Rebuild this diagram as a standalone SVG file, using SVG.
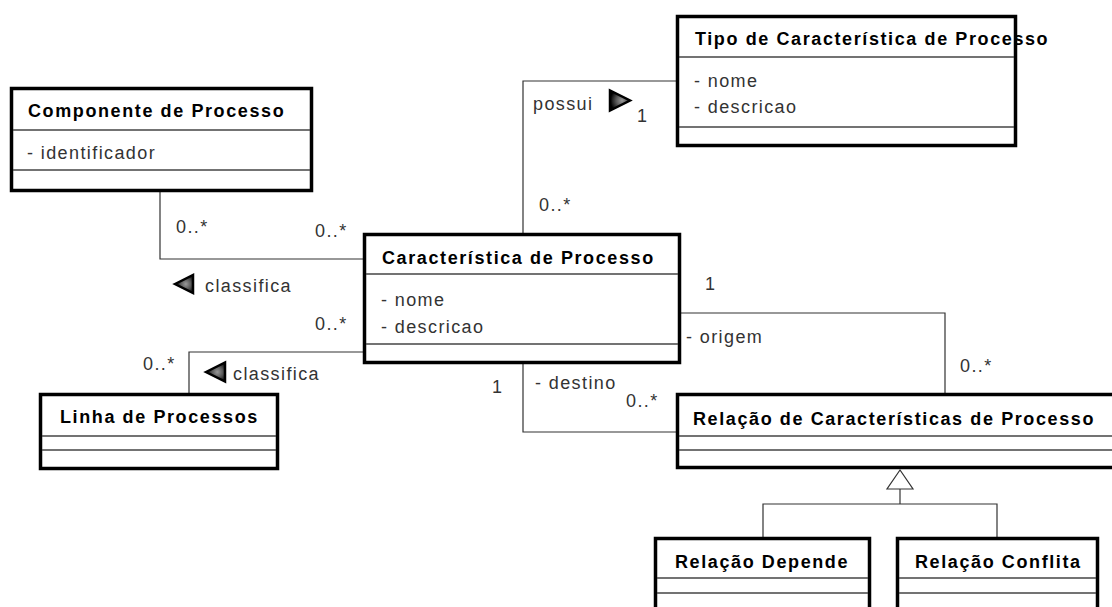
<svg xmlns="http://www.w3.org/2000/svg" width="1112" height="607" viewBox="0 0 1112 607">
<style>
.box{fill:#fff;stroke:#000;stroke-width:3.5}
.sep{stroke:#444;stroke-width:1.3}
.hd{font-family:"Liberation Sans",Arial,sans-serif;font-weight:bold;font-size:18px;letter-spacing:1.6px;fill:#000}
.at{font-family:"Liberation Sans",Arial,sans-serif;font-size:18px;letter-spacing:1.4px;fill:#333}
.ln{fill:none;stroke:#333;stroke-width:1.2}
.dir{fill:url(#g);stroke:#000;stroke-width:2.5;stroke-linejoin:miter}
</style>
<defs>
<radialGradient id="g" cx="0.6" cy="0.5" r="0.6">
<stop offset="0" stop-color="#999"/>
<stop offset="0.5" stop-color="#555"/>
<stop offset="1" stop-color="#000"/>
</radialGradient>
</defs>
<rect width="1112" height="607" fill="#fff"/>
<g id="connectors">
<polyline class="ln" points="160,192 160,259 363,259"/>
<polyline class="ln" points="189,393 189,352 363,352"/>
<polyline class="ln" points="523,233 523,81 676,81"/>
<polyline class="ln" points="680,313 945,313 945,393"/>
<polyline class="ln" points="523,364 523,432 676,432"/>
<polyline class="ln" points="900,489 900,504"/>
<polyline class="ln" points="763,537 763,504 997,504 997,537"/>
<polygon points="900,470 887,489 913,489" fill="#fff" stroke="#333" stroke-width="1.2"/>
<polygon class="dir" points="175,284 193,275 193,293"/>
<polygon class="dir" points="206,372 225,362.5 225,381.5"/>
<polygon class="dir" points="610,90.5 610,110.5 630,100.5"/>
<text class="at" x="176" y="233">0..*</text>
<text class="at" x="315" y="237">0..*</text>
<text class="at" x="205" y="292">classifica</text>
<text class="at" x="315" y="330">0..*</text>
<text class="at" x="143" y="370">0..*</text>
<text class="at" x="233" y="380">classifica</text>
<text class="at" x="533" y="110">possui</text>
<text class="at" x="637" y="122">1</text>
<text class="at" x="539" y="211">0..*</text>
<text class="at" x="705" y="290">1</text>
<text class="at" x="686" y="343">- origem</text>
<text class="at" x="960" y="372">0..*</text>
<text class="at" x="492" y="393">1</text>
<text class="at" x="535" y="389">- destino</text>
<text class="at" x="626" y="407">0..*</text>
</g>
<g id="componente">
<rect class="box" x="11.5" y="88.5" width="300" height="102"/>
<line class="sep" x1="13" y1="130" x2="310" y2="130"/>
<line class="sep" x1="13" y1="170" x2="310" y2="170"/>
<text class="hd" x="28" y="117">Componente de Processo</text>
<text class="at" x="27" y="159">- identificador</text>
</g>
<g id="tipo">
<rect class="box" x="677.5" y="16.5" width="338" height="129"/>
<line class="sep" x1="679" y1="57" x2="1014" y2="57"/>
<line class="sep" x1="679" y1="127" x2="1014" y2="127"/>
<text class="hd" x="695" y="45">Tipo de Característica de Processo</text>
<text class="at" x="694" y="87">- nome</text>
<text class="at" x="694" y="113">- descricao</text>
</g>
<g id="caracteristica">
<rect class="box" x="364.5" y="234.5" width="315" height="128"/>
<line class="sep" x1="366" y1="274" x2="678" y2="274"/>
<line class="sep" x1="366" y1="344" x2="678" y2="344"/>
<text class="hd" x="382" y="264">Característica de Processo</text>
<text class="at" x="381" y="306">- nome</text>
<text class="at" x="381" y="333">- descricao</text>
</g>
<g id="linha">
<rect class="box" x="40.5" y="394.5" width="237" height="74"/>
<line class="sep" x1="42" y1="436" x2="276" y2="436"/>
<line class="sep" x1="42" y1="450" x2="276" y2="450"/>
<text class="hd" x="60" y="423">Linha de Processos</text>
</g>
<g id="relacao">
<rect class="box" x="677.5" y="394.5" width="450" height="73"/>
<line class="sep" x1="679" y1="436" x2="1112" y2="436"/>
<line class="sep" x1="679" y1="450" x2="1112" y2="450"/>
<text class="hd" x="693" y="425">Relação de Características de Processo</text>
</g>
<g id="depende">
<rect class="box" x="655.5" y="538.5" width="214" height="90"/>
<line class="sep" x1="657" y1="578" x2="868" y2="578"/>
<line class="sep" x1="657" y1="593" x2="868" y2="593"/>
<text class="hd" x="675" y="568">Relação Depende</text>
</g>
<g id="conflita">
<rect class="box" x="897.5" y="538.5" width="200" height="90"/>
<line class="sep" x1="899" y1="578" x2="1096" y2="578"/>
<line class="sep" x1="899" y1="593" x2="1096" y2="593"/>
<text class="hd" x="915" y="568">Relação Conflita</text>
</g>
</svg>
